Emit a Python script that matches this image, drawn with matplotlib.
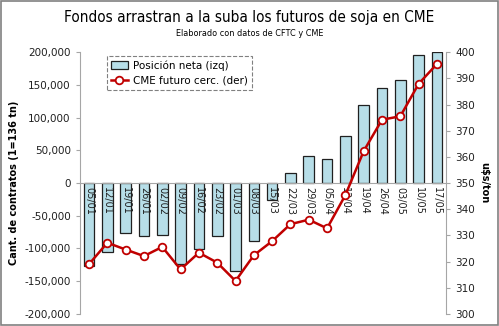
import matplotlib.pyplot as plt
from matplotlib.patches import Rectangle
from matplotlib import font_manager

fechas = ['05/01', '12/01', '19/01', '26/01', '02/02', '09/02', '16/02', '23/02',
          '01/03', '08/03', '15/03', '22/03', '29/03', '05/04', '12/04', '19/04',
          '26/04', '03/05', '10/05', '17/05']
posicion = [-126000, -105000, -76500, -81500, -79000, -123500, -101000, -81500,
            -135000, -88000, -26000, 16000, 41000, 36000, 72500, 120000,
            146000, 158000, 196000, 200000]
cme = [319.0, 327.2, 324.6, 322.1, 325.6, 317.0, 323.4, 319.6,
       312.6, 322.4, 327.8, 334.3, 336.0, 332.7, 345.4, 362.2,
       374.2, 375.5, 387.9, 395.5]

gris = '#a6a6a6'
rojo = '#c00000'
azul = '#b7dee8'

# fuente angosta para el titulo si existe
fp = font_manager.FontProperties(family='DejaVu Sans', stretch='condensed')
ruta = font_manager.findfont(fp)
if 'Condensed' in ruta:
    tit_kw = dict(fontproperties=font_manager.FontProperties(fname=ruta, size=11))
    sub_kw = dict(fontproperties=font_manager.FontProperties(fname=ruta, size=6.5))
else:
    tit_kw = dict(fontsize=9)
    sub_kw = dict(fontsize=5.5)

fig = plt.figure(figsize=(4.99, 3.26), dpi=100)
fig.patches.append(Rectangle((0.002, 0.003), 0.996, 0.994, transform=fig.transFigure,
                             fill=False, edgecolor='#808080', linewidth=1.2))

ax = fig.add_axes([0.160, 0.037, 0.734, 0.803])
ax.set_axisbelow(False)
x = list(range(len(fechas)))
ax.bar(x, posicion, width=0.58, color=azul, edgecolor='#202020', linewidth=0.9,
       label='Posición neta (izq)', zorder=1)
ax.set_xlim(-0.5, len(fechas) - 0.5)
ax.set_ylim(-200000, 200000)
ax.set_yticks(range(-200000, 200001, 50000))
ax.set_yticklabels([f'{v:,}' for v in range(-200000, 200001, 50000)])
ax.spines['bottom'].set_position(('data', 0))
ax.spines['top'].set_visible(False)
ax.spines['right'].set_visible(False)
for s in ['left', 'bottom']:
    ax.spines[s].set_color(gris)
ax.set_xticks(x)
ax.set_xticklabels(fechas, rotation=270, fontsize=7, color='#202020')
ax.tick_params(axis='x', length=0, pad=3)
ax.tick_params(axis='y', colors=gris, labelcolor='#202020', labelsize=7.5, length=3)
ax.set_ylabel('Cant. de contratos (1=136 tn)', fontsize=7, fontweight='bold', labelpad=4)

ax2 = ax.twinx()
ax2.plot(x, cme, color=rojo, linewidth=1.8, marker='o', markersize=5.5,
         markerfacecolor='white', markeredgecolor=rojo, markeredgewidth=1.3,
         label='CME futuro cerc. (der)', zorder=3)
ax2.set_ylim(300, 400)
ax2.set_yticks(range(300, 401, 10))
for s in ['left', 'bottom', 'top']:
    ax2.spines[s].set_visible(False)
ax2.spines['right'].set_color(gris)
ax2.tick_params(axis='y', colors=gris, labelcolor='#202020', labelsize=7.5, length=3)
ax2.set_ylabel(r'u\$s/ton', fontsize=7, fontweight='bold', rotation=270, labelpad=10)

h1, l1 = ax.get_legend_handles_labels()
h2, l2 = ax2.get_legend_handles_labels()
leg = ax2.legend(h1 + h2, l1 + l2, loc='upper left', bbox_to_anchor=(0.074, 0.985),
                 borderaxespad=0, fontsize=7.5, fancybox=False, framealpha=1,
                 handlelength=1.6, handletextpad=0.5, borderpad=0.4, labelspacing=0.5)
leg.get_frame().set_linestyle('--')
leg.get_frame().set_edgecolor('#808080')
leg.get_frame().set_linewidth(0.8)

fig.text(0.5, 0.945, 'Fondos arrastran a la suba los futuros de soja en CME',
         ha='center', va='center', **tit_kw)
fig.text(0.5, 0.898, 'Elaborado con datos de CFTC y CME', ha='center', va='center',
         **sub_kw)

fig.savefig('out.png', dpi=100)
